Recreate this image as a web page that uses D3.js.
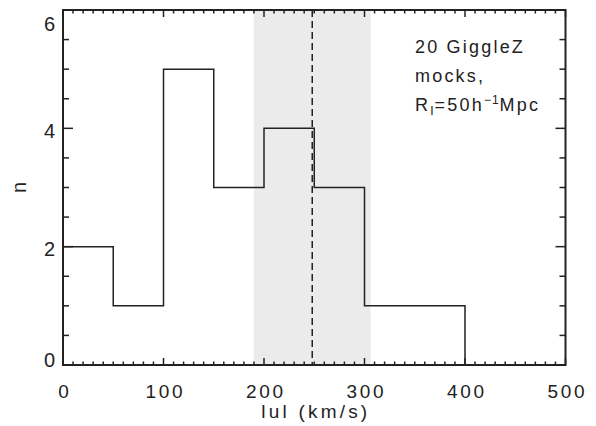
<!DOCTYPE html>
<html>
<head>
<meta charset="utf-8">
<script src="https://cdn.jsdelivr.net/npm/d3@7"></script>
<style>
  html, body { margin: 0; padding: 0; background: #fff; }
  svg text { font-family: "Liberation Sans", Arial, Helvetica, sans-serif; fill: #222; }
</style>
</head>
<body>
<svg id="chart" width="596" height="426"></svg>
<script>
// ---- data ----
const binStarts = [0, 50, 100, 150, 200, 250, 300, 350];
const binEnd = 400;
const counts = [2, 1, 5, 3, 4, 3, 1, 1];
const bandRange = [190, 306];      // shaded region (km/s)
const meanValue = 248;             // dashed line (km/s)
const xTicks = [0, 100, 200, 300, 400, 500];
const yTicks = [0, 2, 4, 6];
const annotation = ["20 GiggleZ", "mocks,"];

// ---- layout ----
const svg = d3.select("#chart");
const pLeft = 63, pRight = 565.5, pTop = 10, pBottom = 365;
const x = d3.scaleLinear().domain([0, 500]).range([pLeft, pRight]);
const y = d3.scaleLinear().domain([0, 6]).range([pBottom, pTop]);
const ink = "#222";

// shaded band
svg.append("rect")
  .attr("x", x(bandRange[0])).attr("y", pTop)
  .attr("width", x(bandRange[1]) - x(bandRange[0]))
  .attr("height", pBottom - pTop)
  .attr("fill", "#ebebeb");

// dashed line
svg.append("line")
  .attr("x1", x(meanValue)).attr("x2", x(meanValue))
  .attr("y1", pTop).attr("y2", pBottom)
  .attr("stroke", ink).attr("stroke-width", 1.5)
  .attr("stroke-dasharray", "7,4");

// histogram outline
const pts = binStarts.map((b, i) => ({ x: b, y: counts[i] }));
pts.push({ x: binEnd, y: 0 });
const line = d3.line().x(d => x(d.x)).y(d => y(d.y)).curve(d3.curveStepAfter);
svg.append("path").datum(pts)
  .attr("d", line)
  .attr("fill", "none").attr("stroke", ink).attr("stroke-width", 1.5);

// frame
svg.append("rect")
  .attr("x", pLeft).attr("y", pTop)
  .attr("width", pRight - pLeft).attr("height", pBottom - pTop)
  .attr("fill", "none").attr("stroke", ink).attr("stroke-width", 2);

// ticks (inward, on all four sides)
const xMinor = d3.range(0, 501, 10).filter(v => !xTicks.includes(v));
const yMinor = d3.range(0, 6.01, 0.5).filter(v => !yTicks.includes(v));
const tickG = svg.append("g");

function addTick(x1, y1, x2, y2) {
  tickG.append("line")
    .attr("x1", x1).attr("y1", y1).attr("x2", x2).attr("y2", y2)
    .attr("stroke", ink).attr("stroke-width", 1.5);
}
xMinor.forEach(v => { addTick(x(v), pBottom, x(v), pBottom - 3.5); addTick(x(v), pTop, x(v), pTop + 3.5); });
xTicks.forEach(v => { addTick(x(v), pBottom, x(v), pBottom - 7); addTick(x(v), pTop, x(v), pTop + 7); });
yMinor.forEach(v => { addTick(pLeft, y(v), pLeft + 6, y(v)); addTick(pRight, y(v), pRight - 6, y(v)); });
yTicks.forEach(v => { addTick(pLeft, y(v), pLeft + 10, y(v)); addTick(pRight, y(v), pRight - 10, y(v)); });

// tick labels via axes (no tick lines / domain)
const gx = svg.append("g").attr("transform", `translate(0,${pBottom})`)
  .call(d3.axisBottom(x).tickValues(xTicks).tickSize(0).tickFormat(d3.format("d")));
gx.select(".domain").remove();
gx.selectAll(".tick line").remove();
gx.selectAll("text").attr("font-size", 19).attr("fill", ink)
  .attr("letter-spacing", 2.7).attr("dx", 1.3)
  .attr("y", 33).attr("dy", 0);

const gy = svg.append("g").attr("transform", `translate(${pLeft},0)`)
  .call(d3.axisLeft(y).tickValues(yTicks).tickSize(0).tickFormat(d3.format("d")));
gy.select(".domain").remove();
gy.selectAll(".tick line").remove();
gy.selectAll("text").attr("font-size", 20).attr("fill", ink).attr("x", -8)
  .attr("dy", d => d === 6 ? "1.0em" : (d === 0 ? "0.05em" : "0.45em"));

// axis titles
svg.append("text")
  .attr("x", (pLeft + pRight) / 2 + 1.6).attr("y", 418)
  .attr("text-anchor", "middle").attr("font-size", 19)
  .attr("letter-spacing", 3.2)
  .text("lul (km/s)");
svg.append("text")
  .attr("transform", `translate(26,${(pTop + pBottom) / 2}) rotate(-90)`)
  .attr("text-anchor", "middle").attr("font-size", 20)
  .text("n");

// annotation
const ax = 415;
const ls = 2.2;
svg.append("text").attr("x", ax).attr("y", 53).attr("font-size", 18).attr("letter-spacing", ls).text(annotation[0]);
svg.append("text").attr("x", ax).attr("y", 82).attr("font-size", 18).attr("letter-spacing", ls).text(annotation[1]);
const t3 = svg.append("text").attr("x", ax).attr("y", 111).attr("font-size", 18).attr("letter-spacing", ls);
t3.append("tspan").text("R");
t3.append("tspan").attr("font-size", 12).attr("dy", 4).attr("letter-spacing", 1).text("I");
t3.append("tspan").attr("dy", -4).text("=50h");
t3.append("tspan").attr("font-size", 12).attr("dy", -7).attr("letter-spacing", 1).text("−1");
t3.append("tspan").attr("dy", 7).text("Mpc");
</script>
</body>
</html>
